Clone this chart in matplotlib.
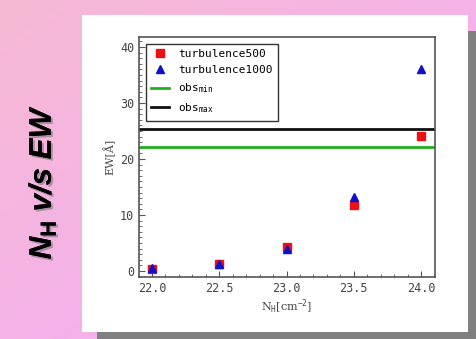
import numpy as np
import matplotlib
matplotlib.use("Agg")
import matplotlib.pyplot as plt
from matplotlib.patches import Rectangle
from matplotlib.ticker import MultipleLocator
import matplotlib.patheffects as pe

nh = [22.0, 22.5, 23.0, 23.5, 24.0]
turb500 = [0.3, 1.3, 4.2, 11.8, 24.2]
turb1000 = [0.5, 1.2, 4.0, 13.2, 36.0]
obs_min = 22.1
obs_max = 25.4
xticks = [22.0, 22.5, 23.0, 23.5, 24.0]
yticks = [0, 10, 20, 30, 40]

plt.rcParams['mathtext.fontset'] = 'custom'
plt.rcParams['mathtext.it'] = 'Liberation Sans:italic:bold'
plt.rcParams['mathtext.bf'] = 'Liberation Sans:bold'
plt.rcParams['mathtext.rm'] = 'DejaVu Sans Mono'

W, H = 477, 339
fig = plt.figure(figsize=(W/100, H/100), dpi=100)

# background gradient
bg = fig.add_axes([0, 0, 1, 1])
bg.set_axis_off()
yy, xx = np.mgrid[0:1:200j, 0:1:300j]
c1 = np.array([246, 185, 210]) / 255.0  # top-left salmon pink
c2 = np.array([244, 176, 240]) / 255.0  # violet pink
t = np.clip((xx * 0.7 + yy * 0.7), 0, 1)[..., None]
img = c1 * (1 - t) + c2 * t
bg.imshow(img, extent=[0, 1, 0, 1], aspect='auto', origin='upper')
bg.set_xlim(0, 1)
bg.set_ylim(0, 1)

def fx(px):
    return px / W

def fy(py):
    return 1 - py / H

# gray shadow
bg.add_patch(Rectangle((fx(97), fy(339)), fx(477) - fx(97), fy(31) - fy(339),
                       facecolor='#808080', edgecolor='none'))
# white panel
bg.add_patch(Rectangle((fx(82), fy(332)), fx(468) - fx(82), fy(15) - fy(332),
                       facecolor='white', edgecolor='none'))

# title
bg.text(fx(42), fy(182), r'$N_{\mathbf{H}}$ v/s EW', rotation=90,
        fontsize=22.5, fontweight='bold', fontstyle='italic', family='Liberation Sans',
        ha='center', va='center', color='black',
        path_effects=[pe.withSimplePatchShadow(offset=(1.5, -1.5), shadow_rgbFace='#777777', alpha=0.6), pe.Normal()])

ax = fig.add_axes([fx(139), fy(277), fx(435) - fx(139), fy(37) - fy(277)])
ax.set_xlim(21.903, 24.104)
ax.set_ylim(-1.07, 41.8)

ax.axhline(obs_min, color='#22b022', lw=2, label=r'obs$_{\mathrm{min}}$', zorder=2)
ax.axhline(obs_max, color='#111111', lw=2, label=r'obs$_{\mathrm{max}}$', zorder=2)
h1, = ax.plot(nh, turb500, 's', color='#ee1111', ms=5.5, label='turbulence500', zorder=3)
h2, = ax.plot(nh, turb1000, '^', color='#1010cc', ms=5.5, label='turbulence1000', zorder=4)

handles, labels = ax.get_legend_handles_labels()
order = [2, 3, 0, 1]
leg = ax.legend([handles[i] for i in order], [labels[i] for i in order],
                loc='upper left', prop={'family': 'DejaVu Sans Mono', 'size': 8},
                fancybox=False, framealpha=1, edgecolor='#333333',
                borderaxespad=0.6, handlelength=1.6, labelspacing=0.55,
                borderpad=0.5)
leg.get_frame().set_linewidth(1.0)

ax.set_xticks(xticks)
ax.set_xticklabels([f'{v:.1f}' for v in xticks])
ax.set_yticks(yticks)
ax.xaxis.set_minor_locator(MultipleLocator(0.1))
ax.yaxis.set_minor_locator(MultipleLocator(1))
ax.tick_params(which='both', direction='in', top=False, right=False,
               labelsize=8.5, labelcolor='#444444', color='#555555')
ax.tick_params(which='major', length=4)
ax.tick_params(which='minor', length=2)
for lab in ax.get_xticklabels() + ax.get_yticklabels():
    lab.set_family('DejaVu Sans Mono')

for s in ax.spines.values():
    s.set_color('#555555')
    s.set_linewidth(1.2)

ax.set_xlabel(r'N$_{\mathrm{H}}$[cm$^{-2}$]', fontsize=8, family='DejaVu Serif', color='#444444', labelpad=2)
ax.set_ylabel('EW[Å]', fontsize=8, family='DejaVu Serif', color='#444444', labelpad=3)

fig.savefig('out.png', dpi=100)
